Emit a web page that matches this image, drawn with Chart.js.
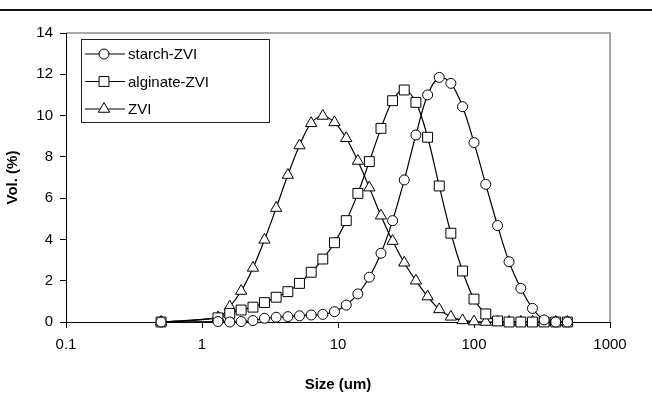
<!DOCTYPE html>
<html>
<head>
<meta charset="utf-8">
<script src="https://cdn.jsdelivr.net/npm/chart.js@4.4.0/dist/chart.umd.min.js"></script>
<style>
  html, body { margin: 0; padding: 0; background: #fff; }
  #wrap { width: 652px; height: 416px; }
</style>
</head>
<body>
<div id="wrap"><canvas id="chart" width="652" height="416"></canvas></div>
<script>
// particle size bins (um)
const sizes = [0.5, 1.31, 1.6, 1.94, 2.37, 2.88, 3.51, 4.28, 5.21, 6.35, 7.73, 9.42, 11.5, 14.0, 17.0,
  20.7, 25.2, 30.7, 37.4, 45.6, 55.5, 67.6, 82.4, 100, 122, 149, 181, 221, 269, 328, 399, 486];
const starch = [0, 0.02, 0, 0.02, 0.07, 0.18, 0.23, 0.26, 0.3, 0.34, 0.37, 0.5, 0.82, 1.36, 2.17,
  3.33, 4.91, 6.88, 9.06, 11.0, 11.85, 11.56, 10.43, 8.69, 6.67, 4.67, 2.92, 1.63, 0.66, 0.1, 0, 0];
const alginate = [0, 0.2, 0.42, 0.58, 0.72, 0.94, 1.2, 1.47, 1.87, 2.41, 3.05, 3.84, 4.91, 6.23, 7.77,
  9.38, 10.72, 11.24, 10.64, 8.95, 6.59, 4.3, 2.47, 1.11, 0.39, 0.05, 0, 0, 0, 0, 0, 0];
const zvi = [0, 0.22, 0.74, 1.5, 2.62, 3.98, 5.52, 7.12, 8.55, 9.63, 9.98, 9.67, 8.9, 7.8, 6.51,
  5.15, 3.92, 2.87, 2.0, 1.23, 0.61, 0.25, 0.08, 0.02, 0, 0, 0, 0, 0, 0, 0, 0];
const seriesNames = ['starch-ZVI', 'alginate-ZVI', 'ZVI'];
const xTicks = [0.1, 1, 10, 100, 1000];

Chart.defaults.font.family = '"Liberation Sans", Arial, sans-serif';
Chart.defaults.color = '#000';

function toPoints(values) {
  return values.map((v, i) => ({ x: sizes[i], y: v }));
}

function drawMarker(ctx, style, x, y, r) {
  ctx.beginPath();
  if (style === 'circle') {
    ctx.arc(x, y, r, 0, Math.PI * 2);
  } else if (style === 'rect') {
    const s = r * Math.SQRT1_2;
    ctx.rect(x - s, y - s, 2 * s, 2 * s);
  } else {
    ctx.moveTo(x, y - r);
    ctx.lineTo(x + r * Math.sin(Math.PI * 2 / 3), y - r * Math.cos(Math.PI * 2 / 3));
    ctx.lineTo(x + r * Math.sin(Math.PI * 4 / 3), y - r * Math.cos(Math.PI * 4 / 3));
    ctx.closePath();
  }
  ctx.fillStyle = '#fff';
  ctx.fill();
  ctx.strokeStyle = '#000';
  ctx.lineWidth = 1;
  ctx.stroke();
}

// white page, rule at the top, grey frame on top/right of the plot
const framePlugin = {
  id: 'frame',
  beforeDraw(chart) {
    const ctx = chart.ctx;
    ctx.save();
    ctx.fillStyle = '#fff';
    ctx.fillRect(0, 0, chart.width, chart.height);
    ctx.fillStyle = '#111';
    ctx.fillRect(0, 9, chart.width, 2);
    const a = chart.chartArea;
    ctx.strokeStyle = '#8c8c8c';
    ctx.lineWidth = 1.5;
    ctx.beginPath();
    ctx.moveTo(a.left, a.top);
    ctx.lineTo(a.right, a.top);
    ctx.lineTo(a.right, a.bottom);
    ctx.stroke();
    ctx.restore();
  }
};

// legend box inside the plot, line + marker like the original
const boxLegend = {
  id: 'boxLegend',
  afterDraw(chart) {
    const ctx = chart.ctx;
    ctx.save();
    ctx.fillStyle = '#fff';
    ctx.fillRect(81, 39, 188, 83);
    ctx.strokeStyle = '#222';
    ctx.lineWidth = 1;
    ctx.strokeRect(81.5, 39.5, 188, 83);
    chart.data.datasets.forEach((ds, i) => {
      const y = 54 + i * 27.5;
      ctx.beginPath();
      ctx.moveTo(85, y);
      ctx.lineTo(125, y);
      ctx.strokeStyle = '#000';
      ctx.lineWidth = 1;
      ctx.stroke();
      drawMarker(ctx, ds.pointStyle, 104, y, ds.pointRadius);
      ctx.fillStyle = '#000';
      ctx.font = '15px "Liberation Sans", Arial, sans-serif';
      ctx.textBaseline = 'middle';
      ctx.fillText(ds.label, 128, y + 1);
    });
    ctx.restore();
  }
};

function makeSet(label, values, style, radius) {
  return {
    label: label,
    data: toPoints(values),
    showLine: true,
    borderColor: '#000',
    borderWidth: 1.2,
    tension: 0.35,
    pointStyle: style,
    pointRadius: radius,
    pointHoverRadius: radius,
    pointBackgroundColor: '#fff',
    pointBorderColor: '#000',
    pointBorderWidth: 1,
    clip: false
  };
}

new Chart(document.getElementById('chart'), {
  type: 'scatter',
  data: {
    datasets: [
      makeSet(seriesNames[0], starch, 'circle', 5),
      makeSet(seriesNames[1], alginate, 'rect', 7),
      makeSet(seriesNames[2], zvi, 'triangle', 6.5)
    ]
  },
  options: {
    responsive: false,
    animation: false,
    layout: { padding: { top: 33, right: 42, left: 0, bottom: 0 } },
    plugins: {
      legend: { display: false },
      tooltip: { enabled: false }
    },
    scales: {
      x: {
        type: 'logarithmic',
        min: 0.1,
        max: 1000,
        afterBuildTicks: (scale) => { scale.ticks = xTicks.map(v => ({ value: v })); },
        afterFit: (scale) => { scale.height = 94; },
        ticks: {
          callback: (v) => String(v),
          font: { size: 15 },
          color: '#000',
          padding: 8,
          maxRotation: 0
        },
        grid: { drawOnChartArea: false, color: '#000', tickLength: 6 },
        border: { color: '#000', width: 1 },
        title: {
          display: true,
          text: 'Size (um)',
          font: { size: 15, weight: 'bold' },
          color: '#000',
          padding: { bottom: 22 }
        }
      },
      y: {
        min: 0,
        max: 14,
        afterFit: (scale) => { scale.width = 66; },
        ticks: { stepSize: 2, font: { size: 15 }, color: '#000', padding: 7 },
        grid: { drawOnChartArea: false, color: '#000', tickLength: 6 },
        border: { color: '#000', width: 1 },
        title: {
          display: true,
          text: 'Vol. (%)',
          font: { size: 15, weight: 'bold' },
          color: '#000',
          padding: { top: 4 }
        }
      }
    }
  },
  plugins: [framePlugin, boxLegend]
});
</script>
</body>
</html>
